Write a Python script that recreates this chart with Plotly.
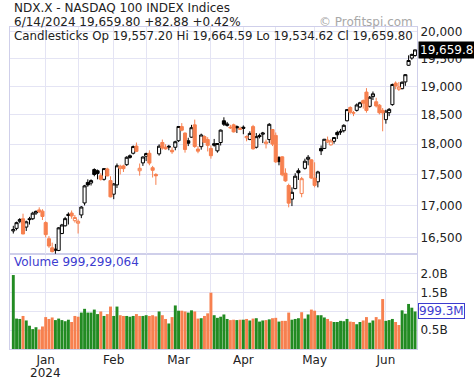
import math
import plotly.graph_objects as go

# ---------------- data ----------------
dates = [
    "2023-12-15", "2023-12-18", "2023-12-19", "2023-12-20", "2023-12-21", "2023-12-22",
    "2023-12-26", "2023-12-27", "2023-12-28", "2023-12-29",
    "2024-01-02", "2024-01-03", "2024-01-04", "2024-01-05", "2024-01-08", "2024-01-09",
    "2024-01-10", "2024-01-11", "2024-01-12", "2024-01-16", "2024-01-17", "2024-01-18",
    "2024-01-19", "2024-01-22", "2024-01-23", "2024-01-24", "2024-01-25", "2024-01-26",
    "2024-01-29", "2024-01-30", "2024-01-31",
    "2024-02-01", "2024-02-02", "2024-02-05", "2024-02-06", "2024-02-07", "2024-02-08",
    "2024-02-09", "2024-02-12", "2024-02-13", "2024-02-14", "2024-02-15", "2024-02-16",
    "2024-02-20", "2024-02-21", "2024-02-22", "2024-02-23", "2024-02-26", "2024-02-27",
    "2024-02-28", "2024-02-29",
    "2024-03-01", "2024-03-04", "2024-03-05", "2024-03-06", "2024-03-07", "2024-03-08",
    "2024-03-11", "2024-03-12", "2024-03-13", "2024-03-14", "2024-03-15", "2024-03-18",
    "2024-03-19", "2024-03-20", "2024-03-21", "2024-03-22", "2024-03-25", "2024-03-26",
    "2024-03-27", "2024-03-28",
    "2024-04-01", "2024-04-02", "2024-04-03", "2024-04-04", "2024-04-05", "2024-04-08",
    "2024-04-09", "2024-04-10", "2024-04-11", "2024-04-12", "2024-04-15", "2024-04-16",
    "2024-04-17", "2024-04-18", "2024-04-19", "2024-04-22", "2024-04-23", "2024-04-24",
    "2024-04-25", "2024-04-26", "2024-04-29", "2024-04-30",
    "2024-05-01", "2024-05-02", "2024-05-03", "2024-05-06", "2024-05-07", "2024-05-08",
    "2024-05-09", "2024-05-10", "2024-05-13", "2024-05-14", "2024-05-15", "2024-05-16",
    "2024-05-17", "2024-05-20", "2024-05-21", "2024-05-22", "2024-05-23", "2024-05-24",
    "2024-05-28", "2024-05-29", "2024-05-30", "2024-05-31",
    "2024-06-03", "2024-06-04", "2024-06-05", "2024-06-06", "2024-06-07", "2024-06-10",
    "2024-06-11", "2024-06-12", "2024-06-13", "2024-06-14",
]

opens = [
    16600, 16640, 16750, 16790, 16660, 16790, 16790, 16880, 16930, 16910,
    16730, 16480, 16340, 16320, 16300, 16560, 16680, 16860, 16880, 16760,
    16720, 16850, 17040, 17370, 17360, 17580, 17560, 17480, 17420, 17590,
    17400,
    17180, 17330, 17600, 17640, 17660, 17780, 17850, 17970, 17560, 17690,
    17800, 17850, 17610, 17500, 17840, 18030, 17950, 17950, 17900, 17950,
    18060, 18300, 18190, 18060, 18120, 18330, 17920, 17960, 18130, 18080,
    17930, 18010, 17890, 18030, 18400, 18320, 18290, 18330, 18300, 18270,
    18290, 18110, 18080, 18300, 17950, 18150, 18170, 18010, 18080, 18250,
    18150, 17780, 17790, 17520, 17320, 17100, 17270, 17560, 17190, 17600,
    17750, 17740,
    17440, 17380, 17930, 17930, 18040, 17990, 18050, 18200, 18220, 18230,
    18400, 18630, 18530, 18580, 18640, 18750, 18900, 18650, 18820, 18730,
    18670, 18580,
    18420, 18540, 18680, 19060, 18950, 18960, 19080, 19380, 19510, 19557.20,
]

highs = [
    16680, 16745, 16800, 16870, 16760, 16820, 16900, 16920, 16970, 16940,
    16750, 16520, 16420, 16400, 16660, 16710, 16820, 16890, 16920, 16850,
    16780, 16990, 17330, 17420, 17420, 17600, 17580, 17520, 17600, 17610,
    17470,
    17360, 17680, 17660, 17660, 17800, 17830, 17980, 18030, 17680, 17800,
    17860, 17900, 17640, 17520, 18000, 18080, 18000, 17990, 17950, 18060,
    18310, 18360, 18200, 18110, 18330, 18420, 17970, 18180, 18150, 18120,
    17980, 18090, 18020, 18250, 18460, 18380, 18330, 18350, 18320, 18300,
    18320, 18150, 18220, 18330, 18190, 18180, 18210, 18080, 18360, 18260,
    18200, 17800, 17800, 17600, 17350, 17290, 17520, 17600, 17460, 17760,
    17820, 17750,
    17700, 17560, 17980, 18090, 18130, 18090, 18120, 18230, 18260, 18340,
    18600, 18650, 18570, 18700, 18730, 18770, 18970, 18830, 18910, 18800,
    18690, 18620,
    18590, 18620, 19050, 19090, 19080, 19090, 19220, 19560, 19590, 19664.59,
]

lows = [
    16560, 16610, 16720, 16550, 16600, 16700, 16770, 16850, 16880, 16770,
    16500, 16340, 16270, 16250, 16290, 16550, 16670, 16700, 16790, 16730,
    16560, 16800, 17000, 17300, 17320, 17470, 17420, 17400, 17400, 17470,
    17130,
    17100, 17280, 17500, 17540, 17640, 17760, 17830, 17870, 17480, 17640,
    17720, 17650, 17450, 17330, 17810, 17910, 17910, 17900, 17840, 17900,
    18040, 18220, 17860, 17970, 18110, 17940, 17850, 17910, 18020, 17880,
    17760, 17960, 17860, 17980, 18310, 18300, 18260, 18200, 18190, 18240,
    18170, 18050, 18070, 17910, 17930, 18100, 18020, 17930, 18020, 17970,
    17690, 17650, 17470, 17380, 16970, 16990, 17260, 17410, 17130, 17580,
    17650, 17430,
    17290, 17290, 17820, 17920, 18020, 17980, 18010, 18090, 18160, 18200,
    18390, 18520, 18480, 18560, 18620, 18610, 18540, 18630, 18760, 18630,
    18510, 18220,
    18350, 18480, 18660, 18950, 18920, 18950, 19010, 19370, 19480, 19534.62,
]

closes = [
    16623, 16729, 16777, 16553, 16742, 16777, 16878, 16906, 16898, 16826,
    16543, 16368, 16282, 16306, 16648, 16693, 16792, 16841, 16833, 16810,
    16750, 16975, 17314, 17329, 17400, 17499, 17517, 17421, 17596, 17476,
    17137,
    17345, 17642, 17634, 17595, 17783, 17809, 17962, 17882, 17601, 17787,
    17845, 17686, 17568, 17478, 17968, 17937, 17923, 17965, 17874, 18043,
    18302, 18238, 17912, 18018, 18281, 17963, 17885, 18157, 18033, 17982,
    17809, 17985, 18013, 18240, 18340, 18345, 18280, 18210, 18280, 18255,
    18271, 18131, 18184, 17924, 18129, 18130, 18191, 18038, 18339, 18003,
    17707, 17710, 17493, 17395, 17037, 17210, 17471, 17527, 17431, 17718,
    17783, 17441,
    17322, 17541, 17890, 18085, 18070, 18057, 18114, 18161, 18209, 18322,
    18593, 18546, 18540, 18674, 18713, 18705, 18577, 18809, 18869, 18657,
    18538, 18536,
    18566, 18597, 19034, 19006, 18990, 19074, 19210, 19466, 19576.92, 19659.80,
]

# volume in billions of shares
volumes_b = [
    1.97, 0.81, 0.80, 0.88, 0.76, 0.62, 0.53, 0.58, 0.52, 0.60,
    0.85, 0.80, 0.84, 0.77, 0.81, 0.77, 0.74, 0.78, 0.72, 0.88,
    0.86, 0.97, 1.07, 0.97, 0.97, 1.05, 0.93, 1.00, 0.88, 0.93,
    1.13,
    0.88, 1.13, 0.90, 0.88, 0.88, 0.86, 0.88, 0.93, 0.88, 0.88,
    0.90, 0.88, 0.90, 0.87, 1.00, 0.90, 0.80, 0.68, 0.85, 1.16,
    1.02, 1.02, 1.00, 0.97, 1.03, 1.00, 0.81, 0.82, 0.88, 0.95,
    1.50, 0.90, 0.83, 0.86, 0.92, 0.80, 0.77, 0.78, 0.77, 0.78,
    0.78, 0.80, 0.76, 0.81, 0.82, 0.73, 0.76, 0.77, 0.79, 0.82,
    0.83, 0.73, 0.75, 0.75, 0.97, 0.78, 0.80, 0.82, 0.98, 0.81,
    0.92, 1.05,
    1.02, 0.90, 0.90, 0.84, 0.80, 0.74, 0.72, 0.72, 0.75, 0.74,
    0.80, 0.73, 0.72, 0.66, 0.72, 0.76, 0.85, 0.70, 0.76, 0.85,
    0.79, 1.33,
    0.75, 0.77, 0.80, 0.72, 0.64, 1.03, 0.94, 1.20, 1.10, 0.999299064,
]

prev_close_before_start = 16565.0

month_starts = ["2024-01-02", "2024-02-01", "2024-03-01", "2024-04-01", "2024-05-01", "2024-06-03"]
month_labels = ["Jan", "Feb", "Mar", "Apr", "May", "Jun"]
year_label = "2024"
mid_months = ["2024-01-17", "2024-02-15", "2024-03-15", "2024-04-15", "2024-05-15"]

price_ticks = [16500, 17000, 17500, 18000, 18500, 19000, 19500, 20000]
vol_ticks_b = [0.5, 1.0, 1.5, 2.0]
vol_tick_text = ["0.5B", "", "1.5B", "2.0B"]   # 1.0B is hidden behind the last-volume box

title_line1 = "NDX.X - NASDAQ 100 INDEX Indices"
title_line2 = "6/14/2024 19,659.80 +82.88 +0.42%"
title_line3 = "Candlesticks Op 19,557.20 Hi 19,664.59 Lo 19,534.62 Cl 19,659.80"
watermark = "\u00a9 Profitspi.com"
volume_label = "Volume 999,299,064"
last_price_label = "19,659.80"
last_volume_label = "999.3M"

# ---------------- styling ----------------
ORANGE = "#F7804F"
GREEN = "#228B22"
BLACK = "#000000"
GRID = "#E4E4F4"
FRAME = "#CFCFEA"
FONT = "DejaVu Sans"
TEXT = "#222222"
BLUE = "#3C3CCF"

idx = list(range(len(dates)))
prev = [prev_close_before_start] + closes[:-1]
up = [c >= p for c, p in zip(closes, prev)]

def subset(arr, flag):
    return [a for a, u in zip(arr, up) if u == flag]

fig = go.Figure()

# candles that closed up versus the prior close (black), down (orange)
for flag, col in ((True, BLACK), (False, ORANGE)):
    fig.add_trace(go.Candlestick(
        x=subset(idx, flag), open=subset(opens, flag), high=subset(highs, flag),
        low=subset(lows, flag), close=subset(closes, flag),
        xaxis="x2", yaxis="y",
        increasing=dict(line=dict(color=col, width=1), fillcolor="white"),
        decreasing=dict(line=dict(color=col, width=1), fillcolor=col),
        whiskerwidth=0, showlegend=False, hoverinfo="skip",
    ))

fig.add_trace(go.Bar(
    x=idx, y=[v * 1e9 for v in volumes_b],
    marker=dict(color=[GREEN if u else ORANGE for u in up], line=dict(width=0)),
    xaxis="x", yaxis="y2", showlegend=False, hoverinfo="skip",
))

tick_pos = [dates.index(d) for d in month_starts]
mid_pos = [dates.index(d) for d in mid_months]
x_range = [-1.02, 124.6]

axis_common = dict(
    showline=True, linecolor=FRAME, linewidth=1, mirror=True,
    gridcolor=GRID, gridwidth=1, zeroline=False, automargin=False,
    tickfont=dict(family=FONT, size=12, color=TEXT),
)

fig.update_layout(
    width=474, height=379,
    margin=dict(l=10, r=57, t=27, b=30, autoexpand=False),
    paper_bgcolor="white", plot_bgcolor="white",
    boxgap=0.05, boxgroupgap=0, bargap=0.1,
    font=dict(family=FONT, size=12, color=TEXT),
    xaxis=dict(
        range=x_range, anchor="y2", domain=[0, 1],
        tickmode="array", tickvals=tick_pos, ticktext=month_labels,
        ticks="", showgrid=True,
        minor=dict(tickmode="array", tickvals=mid_pos, showgrid=True, gridcolor=GRID),
        **axis_common,
    ),
    xaxis2=dict(
        range=x_range, anchor="y", matches="x", domain=[0, 1],
        tickmode="array", tickvals=tick_pos, showticklabels=False,
        ticks="", showgrid=True,
        minor=dict(tickmode="array", tickvals=mid_pos, showgrid=True, gridcolor=GRID),
        rangeslider=dict(visible=False),
        **axis_common,
    ),
    yaxis=dict(
        type="log", domain=[0.295, 1], anchor="x2", side="right",
        range=[math.log10(16246), math.log10(20085)],
        tickmode="array", tickvals=price_ticks,
        ticktext=[f"{v:,}" for v in price_ticks], ticks="",
        **axis_common,
    ),
    yaxis2=dict(
        domain=[0, 0.295], anchor="x", side="right",
        range=[0, 2.53e9],
        tickmode="array", tickvals=[v * 1e9 for v in vol_ticks_b],
        ticktext=vol_tick_text, ticks="",
        **axis_common,
    ),
)

def paper_y(pix):
    return (349 - pix) / 322.0

def paper_x(pix):
    return (pix - 10) / 407.0

annos = [
    dict(text=title_line1, x=paper_x(12), y=paper_y(8), xanchor="left", yanchor="middle",
         font=dict(family=FONT, size=12, color=TEXT)),
    dict(text=title_line2, x=paper_x(12), y=paper_y(22), xanchor="left", yanchor="middle",
         font=dict(family=FONT, size=12, color=TEXT)),
    dict(text=title_line3, x=paper_x(12), y=paper_y(35.5), xanchor="left", yanchor="middle",
         font=dict(family=FONT, size=11.8, color=TEXT)),
    dict(text=watermark, x=paper_x(415), y=paper_y(22), xanchor="right", yanchor="middle",
         font=dict(family=FONT, size=12, color="#A8A8A8")),
    dict(text=volume_label, x=paper_x(12), y=paper_y(262), xanchor="left", yanchor="middle",
         font=dict(family=FONT, size=12, color=BLUE)),
]
for a in annos:
    a.update(xref="paper", yref="paper", showarrow=False)
    fig.add_annotation(**a)

# year under the first month label
fig.add_annotation(
    text=year_label, xref="x", yref="paper", x=tick_pos[0], y=paper_y(373),
    xanchor="center", yanchor="middle", showarrow=False,
    font=dict(family=FONT, size=12, color=TEXT),
)

fig.add_annotation(
    text=last_price_label, xref="paper", yref="y", x=1.0, y=math.log10(closes[-1]),
    xanchor="left", yanchor="middle", showarrow=False,
    bgcolor="black", font=dict(family=FONT, size=12, color="white"),
    borderpad=1, xshift=1,
)
fig.add_annotation(
    text=last_volume_label, xref="paper", yref="y2", x=1.0, y=volumes_b[-1] * 1e9,
    xanchor="left", yanchor="middle", showarrow=False,
    bgcolor="white", bordercolor=BLUE, borderwidth=1,
    font=dict(family=FONT, size=12, color=BLUE), borderpad=0, xshift=1,
)

fig.write_html("out.html")
